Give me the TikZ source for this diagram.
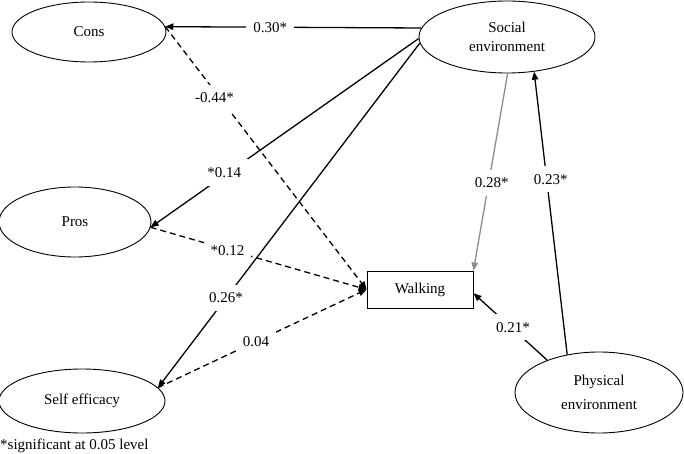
\documentclass[tikz,border=0pt]{standalone}
\usepackage{fontspec}
\setmainfont{Liberation Serif}
\usetikzlibrary{shapes.geometric,arrows.meta}
\begin{document}
\begin{tikzpicture}[x=1pt,y=-1pt,
  font=\fontsize{15}{19}\selectfont,
  ell/.style={draw,ellipse,line width=0.9pt,inner sep=0pt,align=center},
  box/.style={draw,rectangle,line width=0.9pt,inner sep=0pt},
  arr/.style={line width=1.3pt,-{Triangle[length=8pt,width=6.5pt]}},
  darr/.style={arr,dash pattern=on 6pt off 4pt},
  lbl/.style={fill=white,text=black,inner xsep=7pt,inner ysep=8pt}]
\useasboundingbox (0,0) rectangle (684,454);
\node[ell,minimum width=154pt,minimum height=60pt] (cons) at (89,32) {Cons};
\node[ell,minimum width=152pt,minimum height=70pt] (pros) at (75,222) {Pros};
\node[ell,minimum width=166pt,minimum height=64pt] (selfe) at (82,401) {Self efficacy};
\node[ell,minimum width=176pt,minimum height=72pt,font=\fontsize{15}{19}\selectfont] (soc) at (507,37) {Social\\environment};
\node[ell,minimum width=168pt,minimum height=81pt,font=\fontsize{15}{24}\selectfont] (phys) at (599,392.5) {Physical\\environment};
\node[box,minimum width=106pt,minimum height=37pt] (walk) at (420,289.5) {Walking};
\node[anchor=west,inner sep=0pt] (note) at (0,446) {*significant at 0.05 level};
\draw[arr] (soc.174) -- node[lbl,pos=0.59]{0.30*} (cons.4);
\draw[arr] (soc.181) -- node[lbl,pos=0.71,xshift=-4pt]{*0.14} (pros.-4);
\draw[arr] (soc.184) -- node[lbl,pos=0.74]{0.26*} (selfe.10);
\draw[darr] (cons.4) -- node[lbl,pos=0.27,xshift=-5pt]{-0.44*} (walk.west);
\draw[darr] (pros.-4) -- node[lbl,pos=0.37,xshift=-3pt]{*0.12} (walk.west);
\draw[darr] (selfe.10) -- node[lbl,pos=0.47]{0.04} (walk.west);
\draw[arr,draw=black!45,fill=black!45] (soc.271) -- node[lbl,pos=0.555,xshift=3pt]{0.28*} (walk.north east);
\draw[arr] (phys.130) -- node[lbl,pos=0.62,xshift=4pt]{0.23*} (soc.308);
\draw[arr] (phys.148) -- node[lbl,pos=0.49,xshift=2pt]{0.21*} (walk.-4);
\end{tikzpicture}
\end{document}
